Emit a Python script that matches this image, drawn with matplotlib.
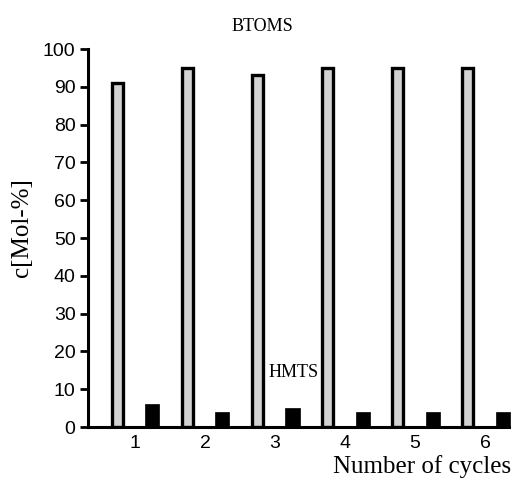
import numpy as np
import matplotlib.pyplot as plt

cycles = [1, 2, 3, 4, 5, 6]
btoms = [91, 95, 93, 95, 95, 95]
hmts = [6, 4, 5, 4, 4, 4]
yticks = [0, 10, 20, 30, 40, 50, 60, 70, 80, 90, 100]

serif = ['Liberation Serif', 'DejaVu Serif']
sans = ['Liberation Sans', 'DejaVu Sans']

fig = plt.figure(figsize=(5.11, 4.87), dpi=100)
ax = fig.add_axes([88 / 511, 60 / 487, 423 / 511, 378 / 487])

x = np.array(cycles)
ax.bar(x - 0.25, btoms, width=0.15, color='#d2d2d2', edgecolor='black',
       linewidth=2.4)
ax.bar(x + 0.25, hmts, width=0.2, color='black', edgecolor='black',
       linewidth=0.5)

ax.set_xlim(0.33, 6.37)
ax.set_ylim(0, 100)
ax.set_yticks(yticks)
ax.set_xticks(cycles)

for s in ['top', 'right']:
    ax.spines[s].set_visible(False)
for s in ['left', 'bottom']:
    ax.spines[s].set_linewidth(2.2)

ax.tick_params(axis='y', direction='out', length=6, width=2, pad=3)
ax.tick_params(axis='x', length=0, pad=6)
for lab in ax.get_xticklabels() + ax.get_yticklabels():
    lab.set_family(sans)
    lab.set_fontsize(14)

ax.text(2.82, 106, 'BTOMS', family=serif, fontsize=13, ha='center',
        va='center', clip_on=False)
ax.text(3.27, 14.5, 'HMTS', family=serif, fontsize=13, ha='center',
        va='center')

fig.text(22 / 511, 1 - 228 / 487, 'c[Mol-%]', family=serif, fontsize=18,
         rotation=90, ha='center', va='center')
fig.text(1.0, 1 - 467 / 487, 'Number of cycles', family=serif, fontsize=18,
         ha='right', va='center')

fig.savefig('out.png', dpi=100)
